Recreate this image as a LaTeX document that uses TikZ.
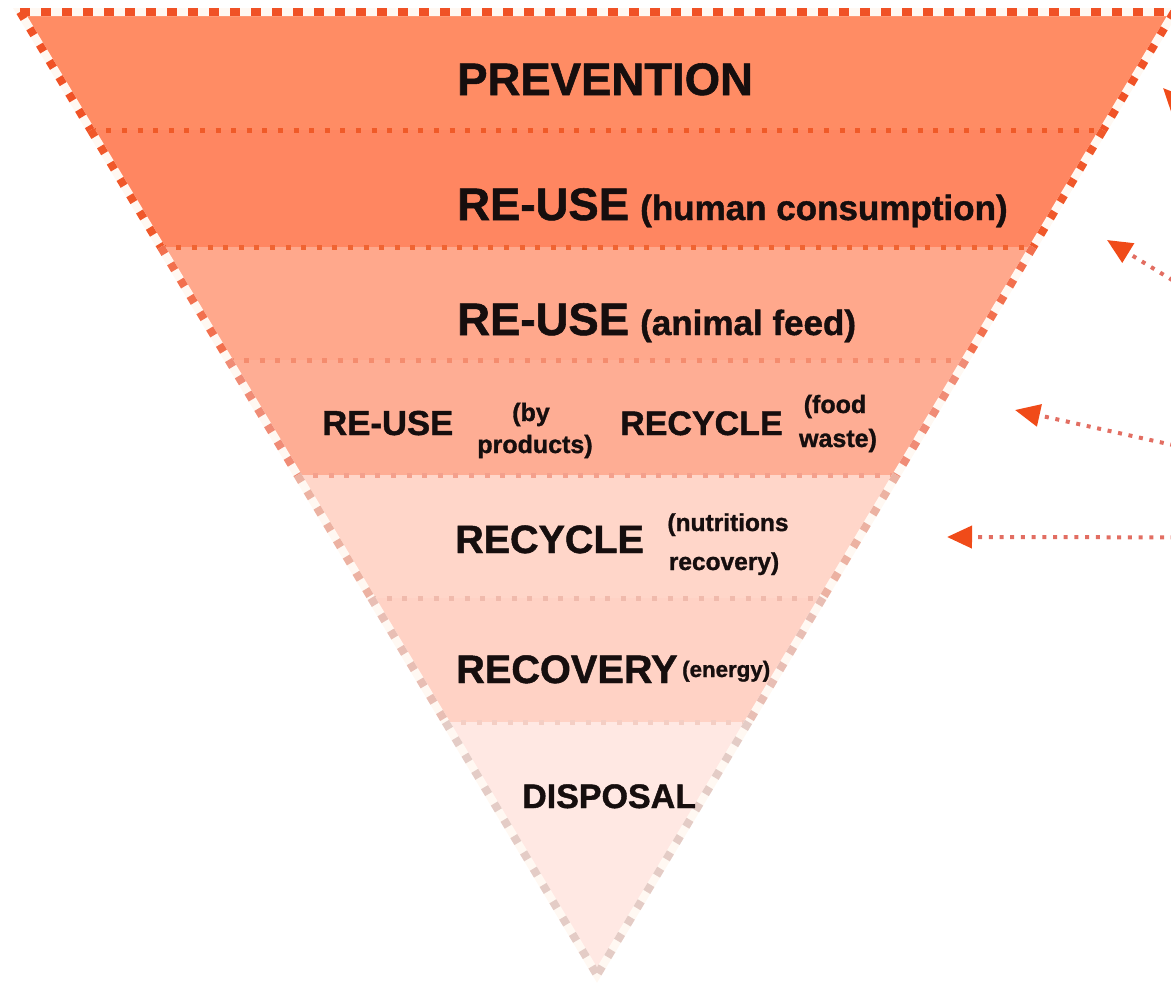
\documentclass[tikz,border=0pt]{standalone}
\usepackage{fontspec}
\setmainfont{Liberation Sans}[BoldFeatures={FakeBold=1.2}]
\usetikzlibrary{calc,arrows.meta}
\definecolor{bandA}{RGB}{255,140,100}
\definecolor{bandB}{RGB}{255,134,97}
\definecolor{bandC}{RGB}{255,168,140}
\definecolor{bandD}{RGB}{254,173,148}
\definecolor{bandE}{RGB}{255,214,201}
\definecolor{bandF}{RGB}{255,210,197}
\definecolor{bandG}{RGB}{255,232,227}
\definecolor{edgeA}{RGB}{240,82,38}
\definecolor{edgeB}{RGB}{240,88,42}
\definecolor{edgeC}{RGB}{242,112,78}
\definecolor{edgeD}{RGB}{240,140,118}
\definecolor{edgeE}{RGB}{236,178,162}
\definecolor{edgeF}{RGB}{232,190,180}
\definecolor{edgeG}{RGB}{228,204,198}
\definecolor{sepA}{RGB}{240,90,40}
\definecolor{sepB}{RGB}{240,100,50}
\definecolor{sepC}{RGB}{244,140,110}
\definecolor{sepD}{RGB}{244,160,140}
\definecolor{sepE}{RGB}{240,186,172}
\definecolor{sepF}{RGB}{244,206,196}
\definecolor{gapcol}{RGB}{255,248,242}
\definecolor{arrowdot}{RGB}{226,110,98}
\definecolor{arrowhead}{RGB}{240,75,25}
\definecolor{ink}{RGB}{22,14,14}
\tikzset{
  edgebase/.style={line width=8pt, draw=gapcol, line cap=butt},
  edgeline/.style={line width=8pt, dash pattern=on 8pt off 11pt, line cap=butt},
  topline/.style={line width=8pt, dash pattern=on 10pt off 11pt, line cap=butt, draw=edgeA},
  sepline/.style={line width=5pt, dash pattern=on 5pt off 10.6pt, line cap=butt},
  flow/.style={draw=arrowdot, line width=4pt, dash pattern=on 4pt off 6.7pt,
    -{Triangle[length=25pt,width=22pt,color=arrowhead]}},
  big/.style={font=\fontsize{45.5pt}{50pt}\selectfont\bfseries, text=ink, inner sep=0pt, anchor=base west},
  mid/.style={font=\fontsize{35pt}{40pt}\selectfont\bfseries, text=ink, inner sep=0pt, anchor=base west},
  small/.style={font=\fontsize{25pt}{28pt}\selectfont\bfseries, text=ink, inner sep=0pt, anchor=base},
}
\begin{document}
\begin{tikzpicture}[x=1pt,y=-1pt]
\useasboundingbox (0,0) rectangle (1171,985);
\clip (0,0) rectangle (1171,985);
\coordinate (A) at (597,975);
\coordinate (TL) at (20,12);
\coordinate (TR) at (1174,12);
\coordinate (TRX) at (1195,12);
\foreach \i/\yy in {1/130,2/247,3/360,4/475,5/598,6/722}{
  \coordinate (L\i) at ($(A)!{(975-\yy)/963}!(TL)$);
  \coordinate (R\i) at ($(A)!{(975-\yy)/963}!(TR)$);
}
% bands
\fill[bandA] (TL) -- (TR) -- (R1) -- (L1) -- cycle;
\fill[bandB] (L1) -- (R1) -- (R2) -- (L2) -- cycle;
\fill[bandC] (L2) -- (R2) -- (R3) -- (L3) -- cycle;
\fill[bandD] (L3) -- (R3) -- (R4) -- (L4) -- cycle;
\fill[bandE] (L4) -- (R4) -- (R5) -- (L5) -- cycle;
\fill[bandF] (L5) -- (R5) -- (R6) -- (L6) -- cycle;
\fill[bandG] (L6) -- (R6) -- (A) -- cycle;
% separators
\draw[sepline, draw=sepA] (L1) -- (R1);
\draw[sepline, draw=sepB] (L2) -- (R2);
\draw[sepline, draw=sepC] (L3) -- (R3);
\draw[sepline, draw=sepD] (L4) -- (R4);
\draw[sepline, draw=sepE] (L5) -- (R5);
\draw[sepline, draw=sepF] (L6) -- (R6);
% pale base under the outline dots
\draw[edgebase] (TRX) -- (TL) -- (A) -- (TR);
% slanted edges
\draw[edgeline, draw=edgeA] (TL) -- (L1);
\draw[edgeline, draw=edgeA] (TR) -- (R1);
\draw[edgeline, draw=edgeB] (L1) -- (L2);
\draw[edgeline, draw=edgeB] (R1) -- (R2);
\draw[edgeline, draw=edgeC] (L2) -- (L3);
\draw[edgeline, draw=edgeC] (R2) -- (R3);
\draw[edgeline, draw=edgeD] (L3) -- (L4);
\draw[edgeline, draw=edgeD] (R3) -- (R4);
\draw[edgeline, draw=edgeE] (L4) -- (L5);
\draw[edgeline, draw=edgeE] (R4) -- (R5);
\draw[edgeline, draw=edgeF] (L5) -- (L6);
\draw[edgeline, draw=edgeF] (R5) -- (R6);
\draw[edgeline, draw=edgeG] (L6) -- (A);
\draw[edgeline, draw=edgeG] (R6) -- (A);
% top edge
\draw[topline] (TL) -- (TRX);
% labels
\node[big] (prev) at (457,95) {PREVENTION};
\node[big] (reuse1) at (457,220) {RE-USE};
\node[mid] (human) at (640,220) {(human consumption)};
\node[big] (reuse2) at (457,335) {RE-USE};
\node[mid] (animal) at (640,335) {(animal feed)};
\node[mid, font=\fontsize{34.7pt}{40pt}\selectfont\bfseries] (reuse3) at (322,435) {RE-USE};
\node[small] (by1) at (531,421) {(by};
\node[small] (by2) at (535,453) {products)};
\node[mid, font=\fontsize{34pt}{40pt}\selectfont\bfseries] (recyc1) at (620,435) {RECYCLE};
\node[small] (food1) at (835,413) {(food};
\node[small] (food2) at (838,447) {waste)};
\node[big, font=\fontsize{39.5pt}{44pt}\selectfont\bfseries] (recyc2) at (455,553) {RECYCLE};
\node[small, font=\fontsize{24.5pt}{28pt}\selectfont\bfseries] (nutr1) at (728,531) {(nutritions};
\node[small, font=\fontsize{24.5pt}{28pt}\selectfont\bfseries] (nutr2) at (724,570) {recovery)};
\node[big, font=\fontsize{39.7pt}{44pt}\selectfont\bfseries] (recov) at (456,683) {RECOVERY};
\node[mid, font=\fontsize{22.3pt}{26pt}\selectfont\bfseries] (energy) at (682,677) {(energy)};
\node[mid, font=\fontsize{34pt}{40pt}\selectfont\bfseries] (disp) at (522,808) {DISPOSAL};
% arrows from an off-picture source
\coordinate (src) at (1592,538);
\coordinate (t1) at (1163,88);
\coordinate (t2) at (1107,240);
\coordinate (t3) at (1015,410);
\coordinate (t4) at (947,537);
\draw[flow] (src) -- (t1);
\draw[flow] (src) -- (t2);
\draw[flow] (src) -- (t3);
\draw[flow] (src) -- (t4);
\end{tikzpicture}
\end{document}
